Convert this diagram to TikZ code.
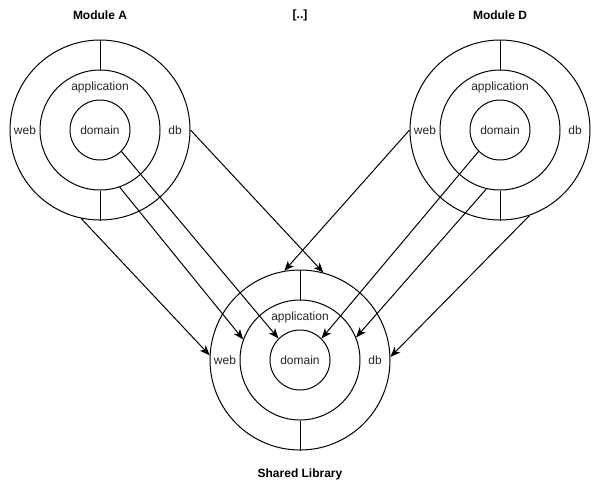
\documentclass[tikz,border=0pt]{standalone}
\usepackage{fontspec}
\setmainfont{Liberation Sans}
\usetikzlibrary{arrows.meta}
\begin{document}
\begin{tikzpicture}[x=0.75pt,y=-0.75pt,
  ring/.style={draw,circle,line width=0.75pt,inner sep=0pt,minimum size=#1*0.75pt},
  lbl/.style={font=\fontsize{9}{11}\selectfont,text=black!85},
  title/.style={font=\bfseries\fontsize{9}{11}\selectfont},
  dep/.style={-{Stealth[length=7.5pt,width=6pt,inset=2pt]},line width=0.75pt}]
\useasboundingbox (0,0) rectangle (600,490);

% one module drawn as three concentric rings with split outer band
\newcommand{\onion}[3]{%
  \node[ring=180] (#1o) at (#2,#3) {};
  \node[ring=120] (#1m) at (#2,#3) {};
  \node[ring=60]  (#1i) at (#2,#3) {};
  \draw[line width=0.75pt] (#1o.north) -- (#1m.north);
  \draw[line width=0.75pt] (#1m.south) -- (#1o.south);
  \node[lbl] (#1app) at (#2,#3-43) {application};
  \node[lbl] (#1dom) at (#2,#3) {domain};
  \node[lbl] (#1web) at (#2-75,#3) {web};
  \node[lbl] (#1db)  at (#2+75,#3) {db};
}

\onion{A}{100}{130}
\onion{D}{500}{130}
\onion{S}{300}{360}

\node[title] (tA) at (100,15) {Module A};
\node[title] (tX) at (300,15) {[..]};
\node[title] (tD) at (500,15) {Module D};
\node[title] (tS) at (300,474) {Shared Library};

% dependencies of Module A
\draw[dep] (Ao.0)    -- (So.75);
\draw[dep] (Am.-71)  -- (Sm.160);
\draw[dep] (Ai.-45)  -- (Si.135);
\draw[dep] (Ao.-102) -- (So.177);

% dependencies of Module D
\draw[dep] (Do.180)  -- (So.100);
\draw[dep] (Di.-135) -- (Si.45);
\draw[dep] (Dm.-103) -- (Sm.22);
\draw[dep] (Do.-71)  -- (So.2);
\end{tikzpicture}
\end{document}
